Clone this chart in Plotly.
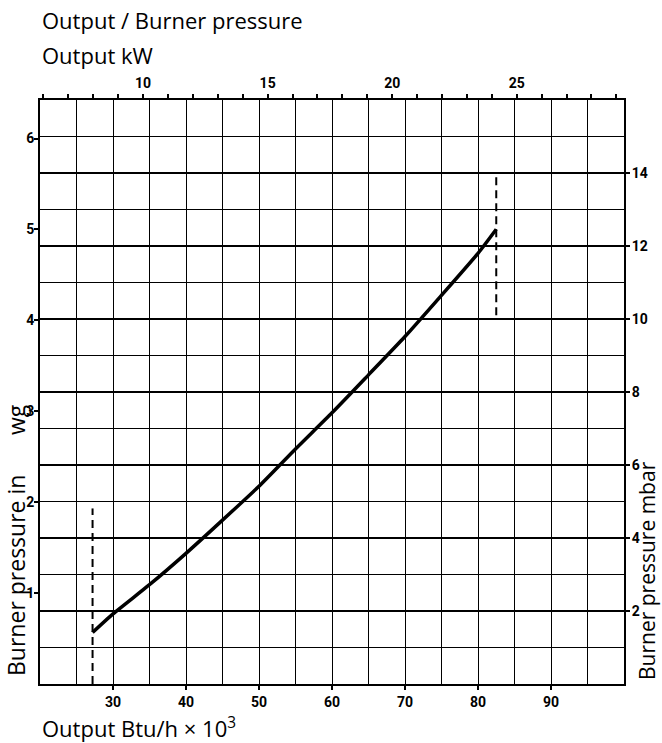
import plotly.graph_objects as go

# Unit conversions
KBTU_PER_KW = 3.41214      # 1 kW = 3.41214 x 10^3 Btu/h
MBAR_PER_INWG = 2.49089    # 1 in wg = 2.49089 mbar

# Output / burner pressure curve (output in Btu/h x 10^3, pressure in mbar)
output_kbtu = [27.2, 30, 35, 40, 45, 50, 55, 60, 65, 70, 75, 80, 82.5]
pressure_mbar = [1.41, 1.92, 2.72, 3.58, 4.49, 5.42, 6.44, 7.43, 8.47, 9.52, 10.65, 11.8, 12.46]

# Dashed limit markers: minimum and maximum output
min_output_x = [27.2, 27.2]
min_output_y = [0.0, 4.81]
max_output_x = [82.5, 82.5]
max_output_y = [10.1, 14.0]

# Axis ranges and ticks
btu_range = [20, 100]
mbar_range = [0, 16]
btu_ticks = [30, 40, 50, 60, 70, 80, 90]
btu_minor = [25, 35, 45, 55, 65, 75, 85, 95]
kw_ticks = list(range(6, 30))
kw_labels = [str(v) if v in (10, 15, 20, 25) else "" for v in kw_ticks]
inwg_ticks = [1, 2, 3, 4, 5, 6]
mbar_ticks = [2, 4, 6, 8, 10, 12, 14]
mbar_minor = [1, 3, 5, 7, 9, 11, 13, 15]

TICK_FONT = "Roboto"
TEXT_FONT = "Open Sans"
tick_font = dict(family=TICK_FONT, size=14, color="black", weight="bold")

fig = go.Figure()

# Main subplot: output (Btu/h x 10^3, bottom) vs pressure (mbar, right)
fig.add_trace(go.Scatter(
    x=output_kbtu, y=pressure_mbar, xaxis="x", yaxis="y",
    mode="lines", line=dict(color="black", width=3.5, shape="spline", smoothing=0.6),
    hoverinfo="skip", showlegend=False))

for xs, ys in ((min_output_x, min_output_y), (max_output_x, max_output_y)):
    fig.add_trace(go.Scatter(
        x=xs, y=ys, xaxis="x", yaxis="y",
        mode="lines", line=dict(color="black", width=2, dash="8px,5px"),
        hoverinfo="skip", showlegend=False))

# Empty trace so the kW (top) and in wg (left) axes get drawn
fig.add_trace(go.Scatter(x=[], y=[], xaxis="x2", yaxis="y2",
                         hoverinfo="skip", showlegend=False))

fig.update_layout(
    width=662, height=743,
    margin=dict(l=40, r=38, t=100, b=59),
    paper_bgcolor="white", plot_bgcolor="white",
    xaxis=dict(
        range=btu_range, tickmode="array", tickvals=btu_ticks,
        ticks="outside", ticklen=4, tickwidth=1.5, tickcolor="black",
        tickfont=tick_font,
        showgrid=True, gridcolor="black", gridwidth=1.4,
        minor=dict(tickmode="array", tickvals=btu_minor, showgrid=True,
                   gridcolor="black", gridwidth=1.2, ticks=""),
        showline=True, linecolor="black", linewidth=2, zeroline=False,
    ),
    yaxis=dict(
        side="right", range=mbar_range,
        tickmode="array", tickvals=mbar_ticks,
        ticks="outside", ticklen=4, tickwidth=1.5, tickcolor="black",
        tickfont=tick_font, ticklabelstandoff=-1,
        showgrid=True, gridcolor="black", gridwidth=1.8,
        minor=dict(tickmode="array", tickvals=mbar_minor, showgrid=True,
                   gridcolor="black", gridwidth=1, ticks=""),
        showline=True, linecolor="black", linewidth=2, zeroline=False,
    ),
    xaxis2=dict(
        overlaying="x", side="top", anchor="y2",
        range=[btu_range[0] / KBTU_PER_KW, btu_range[1] / KBTU_PER_KW],
        tickmode="array", tickvals=kw_ticks, ticktext=kw_labels,
        ticks="outside", ticklen=4, tickwidth=1.5, tickcolor="black",
        tickfont=tick_font,
        showgrid=False, showline=True, linecolor="black", linewidth=2,
        zeroline=False,
    ),
    yaxis2=dict(
        overlaying="y", side="left", anchor="x2",
        range=[mbar_range[0] / MBAR_PER_INWG, mbar_range[1] / MBAR_PER_INWG],
        tickmode="array", tickvals=inwg_ticks,
        ticks="outside", ticklen=4, tickwidth=1.5, tickcolor="black",
        tickfont=tick_font, ticklabelstandoff=-3,
        showgrid=False, showline=True, linecolor="black", linewidth=2,
        zeroline=False,
    ),
)

title_font = dict(family=TEXT_FONT, size=22, color="black")
left_font = dict(family=TEXT_FONT, size=23, color="black")
right_font = dict(family=TEXT_FONT, size=21, color="black")

annotations = [
    dict(text="Output / Burner pressure", x=0.0, y=(684 - 20) / 584,
         xanchor="left", yanchor="middle", font=title_font),
    dict(text="Output kW", x=0.0, y=(684 - 55) / 584,
         xanchor="left", yanchor="middle", font=title_font),
    dict(text="Output Btu/h × 10<sup>3</sup>", x=0.0, y=(684 - 727) / 584,
         xanchor="left", yanchor="middle", font=title_font),
    dict(text="Burner pressure in", x=(16 - 40) / 584,
         y=(684 - 576) / 584, xanchor="center", yanchor="middle", textangle=-90,
         font=left_font),
    dict(text="wg", x=(16 - 40) / 584,
         y=(684 - 420) / 584, xanchor="center", yanchor="middle", textangle=-90,
         font=left_font),
    dict(text="Burner pressure mbar", x=(647 - 40) / 584,
         y=(684 - 571) / 584, xanchor="center", yanchor="middle", textangle=-90,
         font=right_font),
]
for a in annotations:
    fig.add_annotation(xref="paper", yref="paper", showarrow=False, **a)

fig.write_html("out.html")
